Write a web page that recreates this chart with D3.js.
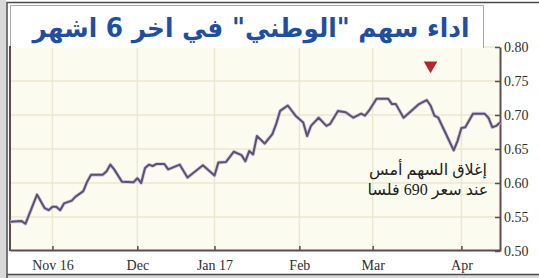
<!DOCTYPE html>
<html>
<head>
<meta charset="utf-8">
<script src="https://cdn.jsdelivr.net/npm/d3@7"></script>
<style>
  body { margin: 0; background: #fff; }
  svg { display: block; }
</style>
</head>
<body>
<svg class="chart"></svg>
<script>
// trading session index (Sun-Thu sessions since mid Oct 2016) and closing price (KD)
var sessions = [0, 3, 4, 7, 9, 10, 11, 12, 13, 14, 16, 17, 19, 20, 21, 24, 25, 26, 27, 29,
  32, 33, 34, 35, 36, 37, 38, 40, 41, 44, 46, 50, 53, 54, 56, 58, 60, 61, 62, 63,
  64, 66, 68, 69, 70, 72, 74, 76, 77, 78, 80, 82, 83, 85, 87, 89, 91, 92, 93, 95,
  98, 99, 100, 102, 104, 106, 108, 109, 110, 111, 113, 115, 116, 117, 118, 120, 123, 124, 125, 126, 127];
var prices = [0.543, 0.544, 0.540, 0.583, 0.563, 0.560, 0.565, 0.565, 0.560, 0.570, 0.574, 0.580, 0.588, 0.602, 0.612, 0.612, 0.617, 0.627, 0.620, 0.602,
  0.601, 0.607, 0.600, 0.622, 0.627, 0.625, 0.628, 0.628, 0.620, 0.627, 0.608, 0.626, 0.611, 0.630, 0.631, 0.646, 0.641, 0.632, 0.647, 0.642,
  0.669, 0.658, 0.672, 0.687, 0.706, 0.714, 0.699, 0.689, 0.669, 0.684, 0.696, 0.684, 0.687, 0.706, 0.704, 0.696, 0.702, 0.699, 0.706, 0.724,
  0.724, 0.716, 0.716, 0.696, 0.706, 0.716, 0.722, 0.714, 0.699, 0.696, 0.672, 0.648, 0.662, 0.681, 0.682, 0.702, 0.702, 0.696, 0.682, 0.684, 0.689];

var monthLabels = ["Nov 16", "Dec", "Jan 17", "Feb", "Mar", "Apr"];
var monthSessions = [11, 33, 53, 75, 94, 117];
var yTicks = [0.50, 0.55, 0.60, 0.65, 0.70, 0.75, 0.80];

var titleText = 'اداء سهم "الوطني" في اخر 6 اشهر';
var noteLines = ["إغلاق السهم أمس", "عند سعر 690 فلسا"];
var markerSession = 109, markerValue = 0.773;

var W = 539, H = 278;
var margin = {top: 46, right: 39, bottom: 28, left: 10};
var width = W - margin.left - margin.right,
    height = H - margin.top - margin.bottom;

var data = sessions.map(function(s, i) { return {s: s, v: prices[i]}; });

var chart = d3.select(".chart").attr("width", W).attr("height", H);

// frame
chart.append("rect").attr("x", 0).attr("y", 0).attr("width", W).attr("height", H).attr("fill", "#fff");
chart.append("rect").attr("x", 0).attr("y", 0).attr("width", 6).attr("height", H).attr("fill", "#d9d9db");
chart.append("rect").attr("x", 0).attr("y", 275).attr("width", W).attr("height", 3).attr("fill", "#d9d9db");
chart.append("path").attr("d", "M7,278V2.5H539M7,274.5H539").attr("fill", "none").attr("stroke", "#4a4a4a").attr("stroke-width", 1.5);

var xScale = d3.scaleLinear().domain([0, 127]).range([0, width]);
var yScale = d3.scaleLinear().domain([0.5, 0.8]).range([height + 1, 1]);

var g = chart.append("g").attr("transform", "translate(" + margin.left + "," + margin.top + ")");

g.append("rect").attr("width", width).attr("height", height).attr("fill", "#fcfbf0");

// grid
g.selectAll(".hgrid").data(yTicks.slice(1)).enter().append("line")
    .attr("x1", 0).attr("x2", width)
    .attr("y1", function(d) { return yScale(d); }).attr("y2", function(d) { return yScale(d); })
    .attr("stroke", "#ece7cf").attr("stroke-width", 1.5);
g.selectAll(".vgrid").data(monthSessions).enter().append("line")
    .attr("x1", function(d) { return xScale(d); }).attr("x2", function(d) { return xScale(d); })
    .attr("y1", -40).attr("y2", height)
    .attr("stroke", "#ece7cf").attr("stroke-width", 1.5);

// title box
g.append("path")
    .attr("d", "M0.5,2V-40.5H473.5V2")
    .attr("fill", "#fff").attr("stroke", "#a8a8a8").attr("stroke-width", 1);
g.append("text")
    .attr("x", 241).attr("y", -9)
    .attr("text-anchor", "middle")
    .attr("direction", "rtl")
    .attr("font-family", "DejaVu Sans")
    .attr("font-weight", "bold")
    .attr("font-size", 26)
    .attr("fill", "#1f4f9e")
    .attr("textLength", 437).attr("lengthAdjust", "spacingAndGlyphs")
    .text(titleText);

// axes
var xAxis = g.append("g")
    .attr("class", "axis x")
    .attr("transform", "translate(0," + height + ")")
    .call(d3.axisBottom(xScale).tickValues(monthSessions)
      .tickFormat(function(d, i) { return monthLabels[i]; })
      .tickSizeInner(-4).tickSizeOuter(0).tickPadding(9));

var yAxis = g.append("g")
    .attr("class", "axis y")
    .attr("transform", "translate(" + width + ",0)")
    .call(d3.axisRight(yScale).tickValues(yTicks)
      .tickFormat(d3.format(".2f"))
      .tickSizeInner(-5).tickSizeOuter(0).tickPadding(4));

g.selectAll(".axis path.domain").attr("stroke", "#5e4c4c").attr("stroke-width", 2);
g.selectAll(".axis line").attr("stroke", "#5e4c4c").attr("stroke-width", 1.5);
g.selectAll(".axis text")
    .attr("font-family", "Liberation Sans Narrow")
    .attr("font-size", 14)
    .attr("fill", "#2e2e2e");
xAxis.selectAll("text").attr("dy", "0.75em");

// left edge
g.append("line").attr("x1", 0).attr("x2", 0).attr("y1", 0).attr("y2", height + 1)
    .attr("stroke", "#5e4c4c").attr("stroke-width", 2);

var line = d3.line()
    .x(function(d) { return xScale(d.s); })
    .y(function(d) { return yScale(d.v); });

g.append("path")
    .datum(data)
    .attr("fill", "none")
    .attr("stroke", "#cfc8de")
    .attr("stroke-width", 3.6)
    .attr("stroke-linejoin", "round")
    .attr("d", line);
g.append("path")
    .datum(data)
    .attr("class", "line")
    .attr("fill", "none")
    .attr("stroke", "#5c5170")
    .attr("stroke-width", 2)
    .attr("stroke-linejoin", "round")
    .attr("d", line);

// marker
g.append("path")
    .attr("d", d3.symbol(d3.symbolTriangle, 80)())
    .attr("transform", "translate(" + xScale(markerSession) + "," + yScale(markerValue) + ") rotate(180)")
    .attr("fill", "#b3262b");

// note
g.selectAll(".note").data(noteLines).enter().append("text")
    .attr("x", 418)
    .attr("y", function(d, i) { return 129 + i * 20; })
    .attr("text-anchor", "middle")
    .attr("direction", "rtl")
    .attr("font-family", "Liberation Serif, DejaVu Sans")
    .attr("font-size", 16)
    .attr("fill", "#222")
    .text(function(d) { return d; });
</script>
</body>
</html>
